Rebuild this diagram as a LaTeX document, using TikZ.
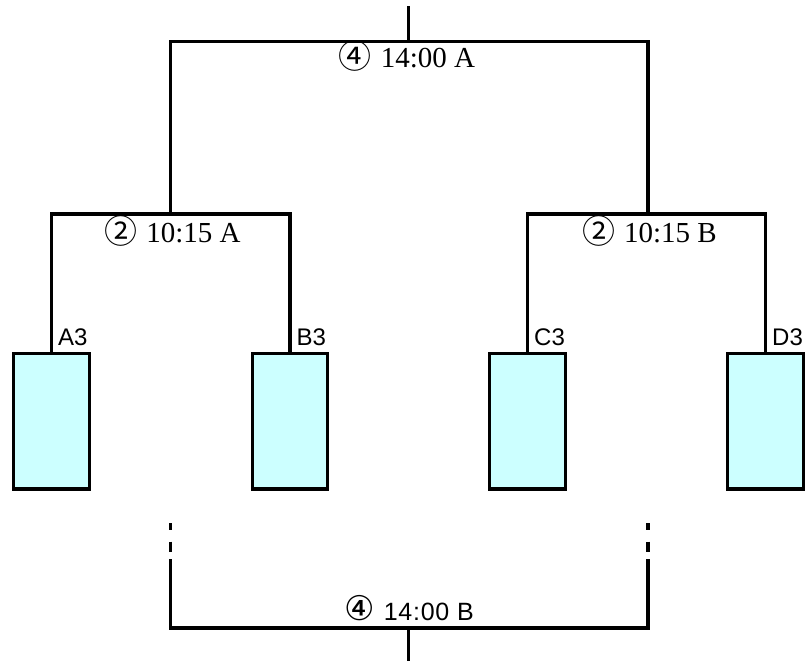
\documentclass[tikz,border=0pt]{standalone}
\usepackage{fontspec}
\newfontfamily\serifl{Liberation Serif}
\newfontfamily\sansl{Liberation Sans}
\newfontfamily\sansls[LetterSpace=3]{Liberation Sans}
\newfontfamily\circs{DejaVu Sans}
\newfontfamily\circserif{Noto Sans CJK JP}
\definecolor{cyanfill}{HTML}{CCFFFF}
\tikzset{
  line/.style={line width=3.3pt},
  teambox/.style={draw, line width=3.3pt, fill=cyanfill, minimum width=75.6pt, minimum height=135.3pt, inner sep=0pt},
  teamlabel/.style={anchor=base west, inner sep=0pt, font=\sansl\fontsize{24}{28}\selectfont},
  matchlabel/.style={anchor=base, inner sep=0pt, font=\serifl\fontsize{29}{34}\selectfont},
  matchlabelsans/.style={anchor=base, inner sep=0pt, font=\sansls\fontsize{25}{30}\selectfont},
}
\newcommand{\circA}[1]{\raisebox{-1.5pt}{\circserif\fontsize{33}{38}\selectfont #1}\hspace{9pt}}
\newcommand{\circB}[1]{{\circs\fontsize{34}{38}\selectfont #1}\hspace{9pt}}
\begin{document}
\begin{tikzpicture}[x=1pt,y=-1pt]
\useasboundingbox (0,0) rectangle (812,661);
% boxes
\node[teambox] (A) at (51.5,421.4) {};
\node[teambox] (B) at (290,421.4) {};
\node[teambox] (C) at (527.5,421.4) {};
\node[teambox] (D) at (765.5,421.4) {};
% team labels
\node[teamlabel] (lA) at ([shift={(6.5,-6.7)}]A.north) {A3};
\node[teamlabel] (lB) at ([shift={(6.5,-6.7)}]B.north) {B3};
\node[teamlabel] (lC) at ([shift={(6.5,-6.7)}]C.north) {C3};
\node[teamlabel] (lD) at ([shift={(6.5,-6.7)}]D.north) {D3};
% junctions
\coordinate (mAB) at (170.5,214);
\coordinate (mCD) at (648,214);
\coordinate (mTop) at (408.3,41.6);
\coordinate (topEnd) at (408.3,6);
\coordinate (bL1) at (170.5,523.3);
\coordinate (bL2) at (170.5,559.3);
\coordinate (bR1) at (648,523.3);
\coordinate (bR2) at (648,559.3);
\coordinate (mBot) at (408.3,628);
\coordinate (botEnd) at (408.3,661);
% brackets
\draw[line] (A.north) |- (mAB) -| (B.north);
\draw[line] (C.north) |- (mCD) -| (D.north);
\draw[line] (mAB) |- (mTop) -| (mCD);
\draw[line] (mTop) -- (topEnd);
\draw[line, dash pattern=on 6.7pt off 11.7pt on 10.6pt off 7pt] (bL1) -- (bL2);
\draw[line, dash pattern=on 6.7pt off 11.7pt on 10.6pt off 7pt] (bR1) -- (bR2);
\draw[line] (bL2) |- (mBot) -| (bR2);
\draw[line] (mBot) -- (botEnd);
% match labels
\node[matchlabel] (tTop) at (407,67.3) {\circA{④}14:00 A};
\node[matchlabel] (tAB) at (172.5,242) {\circA{②}10:15 A};
\node[matchlabel] (tCD) at (649.5,242) {\circA{②}10:15 B};
\node[matchlabelsans] (tBot) at (409,620) {\circB{④}14:00 B};
\end{tikzpicture}
\end{document}
